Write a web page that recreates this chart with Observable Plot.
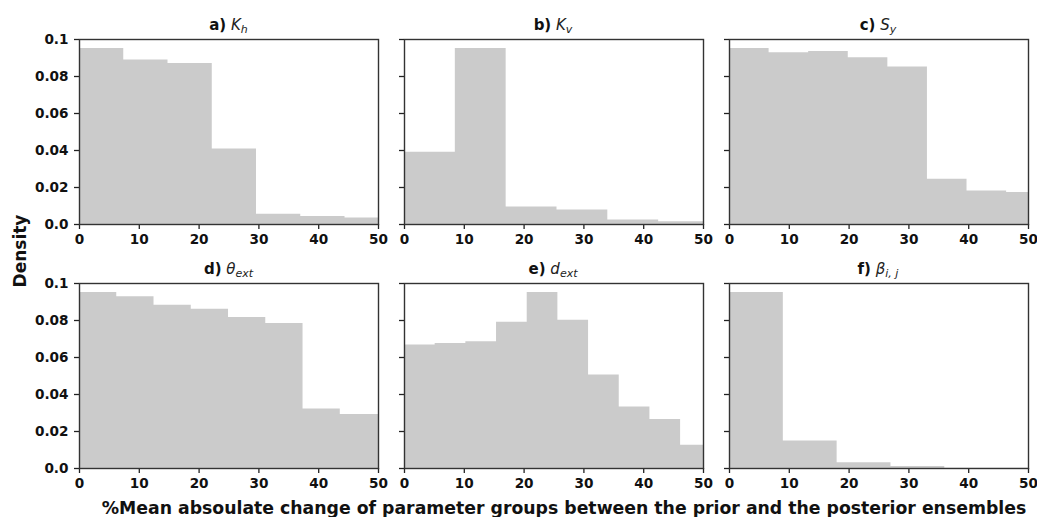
<!DOCTYPE html>
<html>
<head>
<meta charset="utf-8">
<script src="https://cdn.jsdelivr.net/npm/d3@7"></script>
<script src="https://cdn.jsdelivr.net/npm/@observablehq/plot@0.6"></script>
<style>
  html, body { margin: 0; padding: 0; background: #fff; }
  #wrap { position: relative; width: 1037px; height: 517px; font-family: "DejaVu Sans", sans-serif; color: #111; overflow: hidden; }
  .title { position: absolute; width: 300px; text-align: center; font-size: 15px; line-height: 18px; white-space: nowrap; }
  .title b { font-weight: bold; }
  .title i { font-style: italic; font-weight: normal; color: #222; }
  .title sub { font-size: 11px; vertical-align: -3px; line-height: 0; }
  .panel { position: absolute; }
  #ylab { position: absolute; left: 20px; top: 251px; transform: translate(-50%, -50%) rotate(-90deg); font-size: 17px; font-weight: bold; white-space: nowrap; }
  #xlab { position: absolute; left: 564px; top: 508px; transform: translate(-50%, -50%); font-size: 17.3px; font-weight: bold; white-space: nowrap; }
</style>
</head>
<body>
<div id="wrap"></div>
<script>
// ---- data ----
const xTicks = [0, 10, 20, 30, 40, 50];
const yTicks = [0, 0.02, 0.04, 0.06, 0.08, 0.1];
const yTickLabels = ["0.0", "0.02", "0.04", "0.06", "0.08", "0.1"];

const panelLetters = ["a)", "b)", "c)", "d)", "e)", "f)"];
const panelSymbols = ["K", "K", "S", "θ", "d", "β"];
const panelSubs = ["h", "v", "y", "ext", "ext", "i, j"];

const khEdges = [0, 7.4, 14.8, 22.2, 29.6, 37.0, 44.4, 50];
const khDensity = [0.0951, 0.0889, 0.0870, 0.0408, 0.0056, 0.0043, 0.0035];

const kvEdges = [0, 8.5, 17.0, 25.5, 34.0, 42.5, 50];
const kvDensity = [0.0391, 0.0951, 0.0094, 0.0078, 0.0024, 0.0015];

const syEdges = [0, 6.62, 13.24, 19.86, 26.48, 33.1, 39.72, 46.34, 50];
const syDensity = [0.0951, 0.0928, 0.0935, 0.0901, 0.0852, 0.0245, 0.0181, 0.0173];

const thetaEdges = [0, 6.23, 12.46, 18.69, 24.92, 31.15, 37.38, 43.61, 50];
const thetaDensity = [0.0951, 0.0928, 0.0883, 0.0861, 0.0816, 0.0784, 0.0321, 0.0292];

const dextEdges = [0, 5.13, 10.26, 15.39, 20.52, 25.65, 30.78, 35.91, 41.04, 46.17, 50];
const dextDensity = [0.0667, 0.0676, 0.0685, 0.0790, 0.0951, 0.0802, 0.0506, 0.0333, 0.0265, 0.0126];

const betaEdges = [0, 9.0, 18.0, 27.0, 36.0, 45.0, 50];
const betaDensity = [0.0951, 0.0148, 0.0031, 0.0011, 0.0002, 0.0001];

const xLabel = "%Mean absoulate change of parameter groups between the prior and the posterior ensembles";
const yLabel = "Density";

// ---- layout ----
const allEdges = [khEdges, kvEdges, syEdges, thetaEdges, dextEdges, betaEdges];
const allDens = [khDensity, kvDensity, syDensity, thetaDensity, dextDensity, betaDensity];
const colLeft = [79, 403.5, 728.5];
const rowTop = [39, 283];
const plotW = 299, plotH = 185;
const mL = 52, mR = 6, mT = 4, mB = 28;

const wrap = document.getElementById("wrap");

// step outline of the histogram: each edge carries the density of the bin that starts there
function steps(edges, dens) {
  return edges.map((e, i) => ({x: e, y: dens[Math.min(i, dens.length - 1)]}));
}

const yFmt = d => yTickLabels[yTicks.findIndex(t => Math.abs(t - d) < 1e-9)];

for (let p = 0; p < 6; p++) {
  const col = p % 3, row = Math.floor(p / 3);
  const showY = col === 0;
  const chart = Plot.plot({
    width: plotW + mL + mR,
    height: plotH + mT + mB,
    marginLeft: mL, marginRight: mR, marginTop: mT, marginBottom: mB,
    style: {background: "transparent", fontFamily: "DejaVu Sans, sans-serif", fontSize: "13.6px", fontWeight: "bold", color: "#111", overflow: "visible"},
    x: {domain: [0, 50], label: null},
    y: {domain: [0, 0.1], label: null},
    marks: [
      Plot.areaY(steps(allEdges[p], allDens[p]), {x: "x", y: "y", curve: "step-after", fill: "#cbcbcb", clip: true}),
      Plot.axisX({ticks: xTicks, tickSize: 5, tickPadding: 5, stroke: "#222", strokeWidth: 1.3, tickFormat: d => String(d)}),
      Plot.axisY({ticks: yTicks, tickSize: 5, tickPadding: 6, stroke: "#222", strokeWidth: 1.3,
        tickFormat: showY ? yFmt : (() => "")}),
      Plot.frame({stroke: "#333", strokeWidth: 1.4})
    ]
  });
  chart.classList.add("panel");
  chart.style.left = (colLeft[col] - mL) + "px";
  chart.style.top = (rowTop[row] - mT) + "px";
  wrap.appendChild(chart);

  const t = document.createElement("div");
  t.className = "title";
  t.style.left = (colLeft[col] + plotW / 2 - 150) + "px";
  t.style.top = (rowTop[row] - 23) + "px";
  t.innerHTML = `<b>${panelLetters[p]}</b> <i>${panelSymbols[p]}<sub>${panelSubs[p]}</sub></i>`;
  wrap.appendChild(t);
}

const yl = document.createElement("div");
yl.id = "ylab"; yl.textContent = yLabel; wrap.appendChild(yl);
const xl = document.createElement("div");
xl.id = "xlab"; xl.textContent = xLabel; wrap.appendChild(xl);
</script>
</body>
</html>
